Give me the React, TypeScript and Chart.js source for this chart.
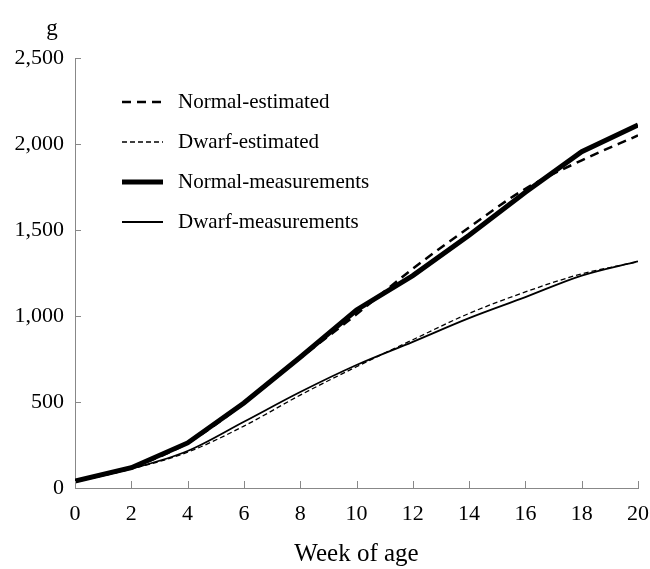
import React, { useEffect, useRef } from "react";
import { Chart, registerables } from "chart.js";

Chart.register(...registerables);

const weeks = [0, 2, 4, 6, 8, 10, 12, 14, 16, 18, 20];
const normalEstimated = [40, 120, 262, 492, 755, 1010, 1275, 1515, 1740, 1905, 2050];
const dwarfEstimated = [35, 110, 208, 360, 540, 705, 862, 1015, 1140, 1245, 1315];
const normalMeasured = [40, 118, 262, 494, 760, 1035, 1235, 1470, 1720, 1955, 2110];
const dwarfMeasured = [35, 112, 215, 385, 558, 715, 850, 988, 1110, 1235, 1318];
const yTicks = [0, 500, 1000, 1500, 2000, 2500];
const xTicks = [0, 2, 4, 6, 8, 10, 12, 14, 16, 18, 20];
const legendLabels = ["Normal-estimated", "Dwarf-estimated", "Normal-measurements", "Dwarf-measurements"];

const FONT = "'Liberation Serif', 'Times New Roman', serif";

const toPts = (arr: number[]) => weeks.map((w, i) => ({ x: w, y: arr[i] }));

export default function App() {
  const ref = useRef<HTMLCanvasElement | null>(null);
  useEffect(() => {
    if (!ref.current) return;
    const styles = [
      { width: 2.5, dash: [9, 6] },
      { width: 1.3, dash: [5, 3] },
      { width: 5, dash: [] as number[] },
      { width: 1.8, dash: [] as number[] },
    ];
    const overlay = {
      id: "overlay",
      afterDraw(chart: any) {
        const ctx = chart.ctx;
        const xs = chart.scales.x;
        const ys = chart.scales.y;
        const ca = chart.chartArea;
        ctx.save();
        ctx.strokeStyle = "#888";
        ctx.lineWidth = 1;
        ctx.beginPath();
        yTicks.forEach((v) => {
          const py = Math.round(ys.getPixelForValue(v)) + 0.5;
          ctx.moveTo(ca.left, py);
          ctx.lineTo(ca.left + 6, py);
        });
        xTicks.forEach((v) => {
          const px = Math.round(xs.getPixelForValue(v)) + 0.5;
          ctx.moveTo(px, ca.bottom);
          ctx.lineTo(px, ca.bottom - 7);
        });
        ctx.stroke();
        ctx.fillStyle = "#000";
        ctx.font = `23px ${FONT}`;
        ctx.textAlign = "center";
        ctx.textBaseline = "middle";
        ctx.fillText("g", ca.left - 23, ca.top - 29);
        ctx.font = `21px ${FONT}`;
        ctx.textAlign = "left";
        const lx0 = ca.left + 47;
        const lx1 = ca.left + 88;
        const tx = ca.left + 103;
        legendLabels.forEach((lab, i) => {
          const yy = ca.top + 44 + i * 40;
          ctx.strokeStyle = "#000";
          ctx.lineWidth = styles[i].width;
          ctx.setLineDash(styles[i].dash);
          ctx.beginPath();
          ctx.moveTo(lx0, yy);
          ctx.lineTo(lx1, yy);
          ctx.stroke();
          ctx.setLineDash([]);
          ctx.fillText(lab, tx, yy);
        });
        ctx.restore();
      },
    };
    const chart = new Chart(ref.current, {
      type: "line",
      data: {
        datasets: [
          {
            label: legendLabels[2],
            data: toPts(normalMeasured),
            borderColor: "#000",
            borderWidth: styles[2].width,
            pointRadius: 0,
            tension: 0,
          },
          {
            label: legendLabels[3],
            data: toPts(dwarfMeasured),
            borderColor: "#000",
            borderWidth: styles[3].width,
            pointRadius: 0,
            cubicInterpolationMode: "monotone",
          },
          {
            label: legendLabels[0],
            data: toPts(normalEstimated),
            borderColor: "#000",
            borderWidth: styles[0].width,
            borderDash: styles[0].dash,
            pointRadius: 0,
            cubicInterpolationMode: "monotone",
          },
          {
            label: legendLabels[1],
            data: toPts(dwarfEstimated),
            borderColor: "#000",
            borderWidth: styles[1].width,
            borderDash: styles[1].dash,
            pointRadius: 0,
            cubicInterpolationMode: "monotone",
          },
        ],
      },
      options: {
        animation: false,
        responsive: true,
        maintainAspectRatio: false,
        layout: { padding: { top: 58, right: 12, left: 0, bottom: 0 } },
        plugins: { legend: { display: false }, tooltip: { enabled: false } },
        scales: {
          x: {
            type: "linear",
            min: 0,
            max: 20,
            afterBuildTicks: (s: any) => {
              s.ticks = xTicks.map((v) => ({ value: v }));
            },
            afterFit: (s: any) => {
              s.height = 81;
              s.paddingRight = 0;
              s.paddingLeft = 0;
            },
            grid: { display: false, drawTicks: false },
            border: { display: true, color: "#888", width: 1 },
            ticks: { color: "#000", font: { family: FONT, size: 22 }, padding: 13, maxRotation: 0 },
            title: {
              display: true,
              text: "Week of age",
              color: "#000",
              font: { family: FONT, size: 25 },
              padding: { top: 0, bottom: 0 },
            },
          },
          y: {
            type: "linear",
            min: 0,
            max: 2500,
            afterBuildTicks: (s: any) => {
              s.ticks = yTicks.map((v) => ({ value: v }));
            },
            afterFit: (s: any) => {
              s.width = 75;
              s.paddingTop = 0;
              s.paddingBottom = 0;
            },
            grid: { display: false, drawTicks: false },
            border: { display: true, color: "#888", width: 1 },
            ticks: {
              color: "#000",
              font: { family: FONT, size: 22 },
              padding: 11,
              callback: (v: any) => Number(v).toLocaleString("en-US"),
            },
          },
        },
      },
      plugins: [overlay],
    });
    return () => chart.destroy();
  }, []);
  return (
    <div style={{ position: "fixed", left: 0, top: 0, width: 650, height: 569, background: "#fff" }}>
      <canvas ref={ref} />
    </div>
  );
}
